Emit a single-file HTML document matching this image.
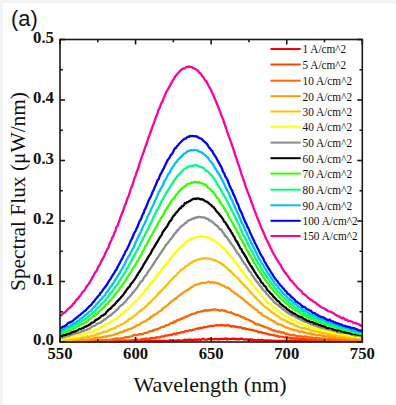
<!DOCTYPE html>
<html><head><meta charset="utf-8"><style>
html,body{margin:0;padding:0;background:#fff;}
body{width:396px;height:405px;overflow:hidden;position:relative;}
svg{position:absolute;left:0;top:0;}
</style></head><body>
<svg width="396" height="405" viewBox="0 0 396 405">
<rect x="0" y="0" width="396" height="405" fill="#ffffff"/>
<rect x="0" y="0" width="396" height="3" fill="#f3f3f3"/>
<rect x="0" y="0" width="3" height="405" fill="#f3f3f3"/>
<text x="11.0" y="25.6" font-family="Liberation Sans, sans-serif" font-size="21.8" fill="#111">(a)</text>
<g><polyline points="60.00,341.00 61.01,341.00 62.02,341.00 63.02,341.00 64.03,341.00 65.04,341.00 66.05,341.00 67.05,341.00 68.06,341.00 69.07,340.99 70.08,341.00 71.08,341.00 72.09,341.00 73.10,341.00 74.11,341.00 75.11,341.00 76.12,341.00 77.13,341.00 78.14,341.00 79.15,341.00 80.15,341.00 81.16,341.00 82.17,341.00 83.18,341.00 84.18,341.00 85.19,341.00 86.20,341.00 87.21,341.00 88.21,341.00 89.22,341.00 90.23,341.00 91.24,341.00 92.25,341.00 93.25,341.00 94.26,341.00 95.27,341.00 96.28,341.00 97.28,341.00 98.29,341.00 99.30,341.00 100.31,341.00 101.31,341.00 102.32,341.00 103.33,341.00 104.34,341.00 105.34,341.00 106.35,341.00 107.36,341.00 108.37,341.00 109.38,341.00 110.38,341.00 111.39,341.00 112.40,341.00 113.41,341.00 114.41,341.00 115.42,341.00 116.43,341.00 117.44,341.00 118.44,341.00 119.45,341.00 120.46,341.00 121.47,341.00 122.48,341.00 123.48,341.00 124.49,341.00 125.50,341.00 126.51,341.00 127.51,341.00 128.52,341.00 129.53,341.00 130.54,341.00 131.54,341.00 132.55,341.00 133.56,341.00 134.57,341.00 135.57,341.00 136.58,341.00 137.59,341.00 138.60,341.00 139.61,341.00 140.61,341.00 141.62,341.00 142.63,341.00 143.64,341.00 144.64,341.00 145.65,341.00 146.66,341.00 147.67,341.00 148.67,341.00 149.68,341.00 150.69,341.00 151.70,341.00 152.71,341.00 153.71,341.00 154.72,341.00 155.73,341.00 156.74,341.00 157.74,340.91 158.75,341.00 159.76,341.00 160.77,341.00 161.77,341.00 162.78,341.00 163.79,340.85 164.80,341.00 165.81,340.99 166.81,341.00 167.82,340.80 168.83,340.86 169.84,340.12 170.84,340.40 171.85,340.36 172.86,341.00 173.87,340.84 174.87,340.88 175.88,340.49 176.89,341.00 177.90,340.22 178.90,340.20 179.91,340.88 180.92,340.73 181.93,340.64 182.94,340.33 183.94,340.11 184.95,339.63 185.96,340.27 186.97,339.93 187.97,340.07 188.98,339.53 189.99,339.79 191.00,339.56 192.00,340.25 193.01,339.93 194.02,340.07 195.03,339.32 196.03,339.53 197.04,339.78 198.05,339.78 199.06,339.45 200.07,339.76 201.07,339.79 202.08,339.32 203.09,338.68 204.10,339.46 205.10,339.52 206.11,339.66 207.12,339.68 208.13,339.08 209.13,338.95 210.14,339.17 211.15,339.05 212.16,339.08 213.17,339.05 214.17,339.53 215.18,339.19 216.19,339.00 217.20,339.25 218.20,339.15 219.21,339.24 220.22,339.08 221.23,338.72 222.23,339.09 223.24,339.01 224.25,338.72 225.26,338.77 226.26,338.46 227.27,339.62 228.28,338.73 229.29,339.15 230.30,338.98 231.30,338.78 232.31,338.73 233.32,338.77 234.33,339.06 235.33,338.64 236.34,339.24 237.35,339.23 238.36,338.98 239.36,339.42 240.37,338.64 241.38,339.02 242.39,338.71 243.40,339.41 244.40,339.56 245.41,339.44 246.42,339.31 247.43,339.76 248.43,339.51 249.44,339.68 250.45,339.23 251.46,339.97 252.46,339.50 253.47,340.06 254.48,340.20 255.49,340.17 256.50,340.37 257.50,340.01 258.51,339.79 259.52,340.10 260.53,340.01 261.53,339.75 262.54,340.21 263.55,340.28 264.56,340.47 265.56,340.92 266.57,340.25 267.58,341.00 268.59,340.37 269.59,340.61 270.60,340.31 271.61,340.71 272.62,340.98 273.63,340.66 274.63,340.97 275.64,340.89 276.65,340.86 277.66,340.95 278.66,341.00 279.67,341.00 280.68,341.00 281.69,341.00 282.69,341.00 283.70,341.00 284.71,340.78 285.72,340.76 286.73,341.00 287.73,341.00 288.74,341.00 289.75,341.00 290.76,341.00 291.76,341.00 292.77,341.00 293.78,341.00 294.79,341.00 295.79,341.00 296.80,341.00 297.81,341.00 298.82,341.00 299.82,341.00 300.83,341.00 301.84,341.00 302.85,341.00 303.86,340.97 304.86,341.00 305.87,341.00 306.88,341.00 307.89,341.00 308.89,340.86 309.90,341.00 310.91,341.00 311.92,341.00 312.92,341.00 313.93,340.92 314.94,341.00 315.95,341.00 316.95,341.00 317.96,341.00 318.97,341.00 319.98,341.00 320.99,341.00 321.99,341.00 323.00,341.00 324.01,341.00 325.02,341.00 326.02,341.00 327.03,341.00 328.04,341.00 329.05,341.00 330.05,341.00 331.06,341.00 332.07,341.00 333.08,341.00 334.09,341.00 335.09,341.00 336.10,341.00 337.11,341.00 338.12,341.00 339.12,341.00 340.13,341.00 341.14,341.00 342.15,341.00 343.15,341.00 344.16,341.00 345.17,341.00 346.18,341.00 347.19,341.00 348.19,341.00 349.20,341.00 350.21,341.00 351.22,341.00 352.22,341.00 353.23,341.00 354.24,341.00 355.25,341.00 356.25,341.00 357.26,341.00 358.27,341.00 359.28,341.00 360.28,341.00 361.29,341.00 362.30,341.00" fill="none" stroke="#ff0000" stroke-width="2.3" stroke-linejoin="round"/>
<polyline points="60.00,341.00 61.01,341.00 62.02,341.00 63.02,341.00 64.03,341.00 65.04,341.00 66.05,341.00 67.05,341.00 68.06,341.00 69.07,341.00 70.08,341.00 71.08,341.00 72.09,341.00 73.10,341.00 74.11,341.00 75.11,341.00 76.12,341.00 77.13,341.00 78.14,341.00 79.15,341.00 80.15,341.00 81.16,341.00 82.17,341.00 83.18,341.00 84.18,341.00 85.19,341.00 86.20,341.00 87.21,341.00 88.21,340.96 89.22,341.00 90.23,341.00 91.24,341.00 92.25,341.00 93.25,341.00 94.26,341.00 95.27,341.00 96.28,341.00 97.28,341.00 98.29,341.00 99.30,341.00 100.31,341.00 101.31,341.00 102.32,341.00 103.33,341.00 104.34,341.00 105.34,341.00 106.35,341.00 107.36,341.00 108.37,341.00 109.38,341.00 110.38,341.00 111.39,341.00 112.40,341.00 113.41,340.61 114.41,341.00 115.42,341.00 116.43,340.98 117.44,341.00 118.44,341.00 119.45,341.00 120.46,340.67 121.47,341.00 122.48,340.95 123.48,341.00 124.49,341.00 125.50,340.29 126.51,340.90 127.51,340.85 128.52,340.94 129.53,340.33 130.54,340.38 131.54,340.73 132.55,340.09 133.56,340.14 134.57,339.91 135.57,340.25 136.58,339.45 137.59,339.76 138.60,339.83 139.61,339.86 140.61,339.68 141.62,339.24 142.63,339.48 143.64,338.97 144.64,339.01 145.65,338.67 146.66,338.71 147.67,338.85 148.67,339.29 149.68,338.49 150.69,338.21 151.70,338.27 152.71,338.01 153.71,338.18 154.72,338.00 155.73,338.02 156.74,337.17 157.74,337.37 158.75,337.41 159.76,337.49 160.77,336.96 161.77,336.30 162.78,336.42 163.79,336.59 164.80,335.75 165.81,335.56 166.81,335.49 167.82,335.35 168.83,335.03 169.84,335.01 170.84,334.72 171.85,334.98 172.86,334.06 173.87,334.22 174.87,333.45 175.88,334.45 176.89,333.38 177.90,333.06 178.90,333.22 179.91,332.73 180.92,332.40 181.93,332.20 182.94,332.29 183.94,331.92 184.95,331.31 185.96,330.98 186.97,331.08 187.97,330.84 188.98,330.54 189.99,330.04 191.00,330.42 192.00,330.25 193.01,329.57 194.02,329.69 195.03,329.29 196.03,328.85 197.04,328.50 198.05,328.74 199.06,327.94 200.07,328.50 201.07,327.59 202.08,328.02 203.09,327.73 204.10,326.95 205.10,327.09 206.11,327.03 207.12,326.75 208.13,326.32 209.13,326.32 210.14,326.18 211.15,325.72 212.16,326.14 213.17,325.96 214.17,325.88 215.18,325.28 216.19,325.26 217.20,325.11 218.20,325.46 219.21,325.47 220.22,325.14 221.23,325.51 222.23,325.14 223.24,325.19 224.25,325.65 225.26,325.50 226.26,325.57 227.27,325.07 228.28,324.89 229.29,325.80 230.30,325.86 231.30,326.67 232.31,326.04 233.32,326.25 234.33,326.72 235.33,326.31 236.34,327.19 237.35,326.96 238.36,327.04 239.36,327.65 240.37,327.22 241.38,327.37 242.39,328.32 243.40,328.55 244.40,328.17 245.41,328.60 246.42,329.19 247.43,329.16 248.43,329.35 249.44,329.61 250.45,329.57 251.46,329.96 252.46,329.80 253.47,330.17 254.48,330.64 255.49,330.78 256.50,330.96 257.50,331.41 258.51,332.25 259.52,331.87 260.53,332.36 261.53,332.14 262.54,332.85 263.55,332.97 264.56,333.27 265.56,333.09 266.57,333.78 267.58,334.15 268.59,334.20 269.59,334.64 270.60,334.68 271.61,334.94 272.62,335.06 273.63,334.76 274.63,335.66 275.64,335.72 276.65,335.98 277.66,335.90 278.66,336.63 279.67,336.65 280.68,336.62 281.69,336.61 282.69,336.94 283.70,337.23 284.71,337.48 285.72,337.21 286.73,337.06 287.73,337.53 288.74,337.70 289.75,337.74 290.76,338.28 291.76,338.20 292.77,338.30 293.78,338.24 294.79,338.44 295.79,338.90 296.80,338.28 297.81,338.20 298.82,338.88 299.82,338.77 300.83,338.89 301.84,338.82 302.85,339.58 303.86,338.72 304.86,339.42 305.87,338.97 306.88,339.39 307.89,339.60 308.89,339.59 309.90,339.34 310.91,339.93 311.92,339.84 312.92,339.93 313.93,340.36 314.94,339.50 315.95,339.77 316.95,340.00 317.96,339.70 318.97,340.39 319.98,340.17 320.99,339.67 321.99,339.94 323.00,340.95 324.01,341.00 325.02,340.68 326.02,340.09 327.03,340.59 328.04,340.55 329.05,340.34 330.05,340.83 331.06,340.54 332.07,340.40 333.08,340.54 334.09,340.59 335.09,340.93 336.10,340.63 337.11,340.95 338.12,340.46 339.12,340.10 340.13,341.00 341.14,341.00 342.15,341.00 343.15,340.89 344.16,340.72 345.17,340.74 346.18,341.00 347.19,341.00 348.19,340.76 349.20,341.00 350.21,340.87 351.22,341.00 352.22,341.00 353.23,341.00 354.24,341.00 355.25,341.00 356.25,341.00 357.26,341.00 358.27,341.00 359.28,341.00 360.28,341.00 361.29,341.00 362.30,341.00" fill="none" stroke="#ff4000" stroke-width="2.3" stroke-linejoin="round"/>
<polyline points="60.00,341.00 61.01,341.00 62.02,341.00 63.02,341.00 64.03,341.00 65.04,341.00 66.05,341.00 67.05,341.00 68.06,341.00 69.07,341.00 70.08,341.00 71.08,341.00 72.09,341.00 73.10,341.00 74.11,341.00 75.11,340.85 76.12,341.00 77.13,341.00 78.14,341.00 79.15,341.00 80.15,341.00 81.16,341.00 82.17,341.00 83.18,341.00 84.18,341.00 85.19,341.00 86.20,340.96 87.21,341.00 88.21,341.00 89.22,340.93 90.23,340.62 91.24,341.00 92.25,340.53 93.25,340.81 94.26,340.99 95.27,340.31 96.28,340.96 97.28,340.34 98.29,340.73 99.30,340.38 100.31,340.81 101.31,340.62 102.32,339.97 103.33,340.15 104.34,340.11 105.34,340.17 106.35,339.81 107.36,340.28 108.37,340.10 109.38,339.70 110.38,339.81 111.39,339.66 112.40,339.36 113.41,339.26 114.41,339.17 115.42,338.47 116.43,338.54 117.44,338.35 118.44,338.59 119.45,338.60 120.46,338.74 121.47,338.25 122.48,338.63 123.48,338.01 124.49,337.44 125.50,337.01 126.51,337.04 127.51,337.41 128.52,336.81 129.53,337.01 130.54,336.33 131.54,336.41 132.55,335.91 133.56,335.18 134.57,335.45 135.57,334.80 136.58,335.22 137.59,335.14 138.60,334.39 139.61,334.02 140.61,334.45 141.62,333.99 142.63,334.18 143.64,333.53 144.64,332.91 145.65,332.92 146.66,332.76 147.67,332.71 148.67,331.86 149.68,331.41 150.69,331.14 151.70,330.91 152.71,331.03 153.71,329.76 154.72,329.96 155.73,329.62 156.74,328.98 157.74,329.48 158.75,328.46 159.76,328.10 160.77,327.55 161.77,326.85 162.78,326.71 163.79,326.99 164.80,326.12 165.81,325.53 166.81,325.12 167.82,325.11 168.83,324.79 169.84,323.68 170.84,323.30 171.85,322.96 172.86,323.02 173.87,321.51 174.87,322.47 175.88,321.25 176.89,320.05 177.90,320.27 178.90,319.70 179.91,319.67 180.92,318.45 181.93,318.81 182.94,317.89 183.94,317.49 184.95,317.41 185.96,316.39 186.97,316.67 187.97,316.03 188.98,315.42 189.99,315.14 191.00,314.48 192.00,313.96 193.01,313.96 194.02,313.67 195.03,313.32 196.03,312.94 197.04,312.26 198.05,312.27 199.06,311.79 200.07,311.67 201.07,311.64 202.08,310.88 203.09,311.23 204.10,310.71 205.10,310.08 206.11,310.69 207.12,310.23 208.13,310.57 209.13,310.14 210.14,310.35 211.15,309.94 212.16,309.95 213.17,309.72 214.17,309.28 215.18,309.69 216.19,309.62 217.20,309.90 218.20,310.04 219.21,310.32 220.22,310.74 221.23,310.32 222.23,310.01 223.24,310.54 224.25,311.05 225.26,310.61 226.26,311.48 227.27,311.80 228.28,312.25 229.29,312.47 230.30,312.56 231.30,312.21 232.31,313.21 233.32,313.81 234.33,314.05 235.33,314.31 236.34,315.15 237.35,315.00 238.36,315.23 239.36,315.76 240.37,316.11 241.38,317.11 242.39,317.68 243.40,317.22 244.40,317.73 245.41,318.98 246.42,318.91 247.43,319.43 248.43,319.73 249.44,320.30 250.45,320.98 251.46,321.23 252.46,321.71 253.47,322.23 254.48,323.23 255.49,324.03 256.50,323.82 257.50,324.52 258.51,324.39 259.52,324.69 260.53,325.25 261.53,325.87 262.54,326.16 263.55,326.24 264.56,327.21 265.56,327.11 266.57,327.57 267.58,328.08 268.59,328.10 269.59,329.12 270.60,328.97 271.61,329.89 272.62,330.18 273.63,330.60 274.63,330.47 275.64,331.20 276.65,331.20 277.66,331.86 278.66,331.48 279.67,331.53 280.68,332.29 281.69,332.13 282.69,332.71 283.70,332.47 284.71,333.34 285.72,334.07 286.73,333.37 287.73,334.08 288.74,334.57 289.75,334.66 290.76,335.15 291.76,334.90 292.77,335.36 293.78,334.76 294.79,335.18 295.79,336.05 296.80,336.17 297.81,336.04 298.82,336.61 299.82,336.20 300.83,336.33 301.84,336.69 302.85,336.75 303.86,336.57 304.86,336.41 305.87,336.51 306.88,337.07 307.89,336.94 308.89,337.54 309.90,337.30 310.91,337.82 311.92,337.41 312.92,338.11 313.93,338.13 314.94,337.93 315.95,337.86 316.95,338.55 317.96,338.37 318.97,338.25 319.98,338.31 320.99,338.72 321.99,338.52 323.00,338.71 324.01,338.28 325.02,338.61 326.02,339.26 327.03,339.60 328.04,338.98 329.05,338.72 330.05,339.09 331.06,338.95 332.07,339.43 333.08,339.76 334.09,339.19 335.09,339.45 336.10,339.34 337.11,340.02 338.12,339.61 339.12,339.92 340.13,339.54 341.14,340.02 342.15,340.09 343.15,340.14 344.16,339.63 345.17,340.06 346.18,340.35 347.19,340.48 348.19,340.54 349.20,339.83 350.21,340.87 351.22,340.63 352.22,340.23 353.23,340.11 354.24,340.56 355.25,340.32 356.25,340.37 357.26,340.34 358.27,340.67 359.28,340.22 360.28,340.70 361.29,340.34 362.30,341.00" fill="none" stroke="#ff6600" stroke-width="2.3" stroke-linejoin="round"/>
<polyline points="60.00,341.00 61.01,341.00 62.02,341.00 63.02,341.00 64.03,341.00 65.04,341.00 66.05,341.00 67.05,340.61 68.06,341.00 69.07,341.00 70.08,340.89 71.08,340.62 72.09,341.00 73.10,340.60 74.11,340.08 75.11,340.36 76.12,340.56 77.13,340.65 78.14,340.23 79.15,340.78 80.15,341.00 81.16,340.35 82.17,340.39 83.18,339.43 84.18,339.82 85.19,340.06 86.20,340.00 87.21,339.39 88.21,339.68 89.22,339.48 90.23,339.21 91.24,339.02 92.25,338.89 93.25,338.74 94.26,338.24 95.27,337.97 96.28,338.82 97.28,337.38 98.29,337.96 99.30,337.45 100.31,337.87 101.31,337.36 102.32,337.21 103.33,337.04 104.34,336.61 105.34,336.47 106.35,336.75 107.36,336.25 108.37,335.76 109.38,335.54 110.38,335.60 111.39,335.33 112.40,335.03 113.41,335.05 114.41,334.82 115.42,333.67 116.43,333.97 117.44,333.52 118.44,333.46 119.45,332.52 120.46,332.05 121.47,332.30 122.48,331.73 123.48,331.75 124.49,330.62 125.50,330.49 126.51,330.64 127.51,329.60 128.52,329.46 129.53,329.02 130.54,328.60 131.54,328.47 132.55,327.97 133.56,327.15 134.57,326.88 135.57,326.66 136.58,325.25 137.59,325.41 138.60,324.99 139.61,324.49 140.61,323.52 141.62,322.87 142.63,322.52 143.64,321.74 144.64,321.86 145.65,320.90 146.66,320.31 147.67,319.53 148.67,318.73 149.68,318.84 150.69,316.60 151.70,317.12 152.71,316.06 153.71,315.21 154.72,314.49 155.73,313.95 156.74,314.16 157.74,312.87 158.75,311.55 159.76,311.30 160.77,310.57 161.77,310.18 162.78,308.32 163.79,307.74 164.80,307.37 165.81,306.34 166.81,305.52 167.82,305.02 168.83,303.95 169.84,302.98 170.84,302.08 171.85,301.05 172.86,300.61 173.87,299.95 174.87,298.88 175.88,298.40 176.89,297.79 177.90,296.28 178.90,295.96 179.91,295.04 180.92,294.12 181.93,293.90 182.94,292.64 183.94,291.98 184.95,291.44 185.96,290.61 186.97,290.29 187.97,290.07 188.98,288.86 189.99,288.45 191.00,287.33 192.00,286.95 193.01,286.66 194.02,285.97 195.03,285.10 196.03,284.71 197.04,284.52 198.05,284.11 199.06,283.97 200.07,283.59 201.07,283.08 202.08,283.03 203.09,282.68 204.10,282.92 205.10,282.93 206.11,282.81 207.12,282.35 208.13,281.76 209.13,281.79 210.14,282.48 211.15,282.71 212.16,282.09 213.17,282.32 214.17,283.04 215.18,282.51 216.19,283.02 217.20,282.95 218.20,283.55 219.21,283.73 220.22,284.27 221.23,285.07 222.23,285.29 223.24,285.89 224.25,285.93 225.26,287.01 226.26,287.72 227.27,287.63 228.28,288.10 229.29,288.63 230.30,289.39 231.30,290.85 232.31,291.30 233.32,291.96 234.33,292.53 235.33,293.92 236.34,294.03 237.35,294.71 238.36,295.87 239.36,296.33 240.37,296.81 241.38,297.97 242.39,298.48 243.40,299.31 244.40,300.32 245.41,301.15 246.42,302.21 247.43,302.55 248.43,303.89 249.44,304.78 250.45,305.18 251.46,306.43 252.46,306.89 253.47,307.51 254.48,308.60 255.49,309.38 256.50,309.91 257.50,310.73 258.51,312.19 259.52,312.87 260.53,312.80 261.53,313.81 262.54,315.27 263.55,315.75 264.56,316.02 265.56,317.00 266.57,317.22 267.58,317.98 268.59,318.49 269.59,319.60 270.60,319.66 271.61,319.84 272.62,321.25 273.63,321.17 274.63,321.81 275.64,322.44 276.65,323.17 277.66,324.00 278.66,324.39 279.67,324.37 280.68,324.76 281.69,325.13 282.69,325.64 283.70,326.07 284.71,326.88 285.72,327.51 286.73,327.46 287.73,327.74 288.74,328.22 289.75,329.05 290.76,329.08 291.76,329.69 292.77,329.52 293.78,330.18 294.79,330.21 295.79,330.35 296.80,330.68 297.81,330.58 298.82,331.59 299.82,332.16 300.83,331.46 301.84,331.56 302.85,331.79 303.86,332.36 304.86,332.50 305.87,332.84 306.88,333.47 307.89,333.45 308.89,333.33 309.90,333.84 310.91,333.28 311.92,334.50 312.92,334.34 313.93,334.05 314.94,334.74 315.95,335.06 316.95,335.29 317.96,335.26 318.97,334.74 319.98,335.22 320.99,335.34 321.99,335.79 323.00,335.52 324.01,335.89 325.02,336.34 326.02,336.33 327.03,336.26 328.04,336.10 329.05,336.60 330.05,336.56 331.06,336.22 332.07,337.19 333.08,337.45 334.09,336.89 335.09,337.17 336.10,337.44 337.11,337.45 338.12,337.74 339.12,337.59 340.13,337.95 341.14,337.71 342.15,338.41 343.15,338.40 344.16,338.22 345.17,338.49 346.18,338.24 347.19,338.55 348.19,338.80 349.20,338.66 350.21,338.97 351.22,339.37 352.22,339.33 353.23,339.31 354.24,339.30 355.25,339.21 356.25,339.04 357.26,339.22 358.27,338.93 359.28,339.16 360.28,339.67 361.29,339.19 362.30,339.40" fill="none" stroke="#ff9900" stroke-width="2.3" stroke-linejoin="round"/>
<polyline points="60.00,340.62 61.01,340.31 62.02,339.99 63.02,340.16 64.03,339.84 65.04,339.93 66.05,339.75 67.05,339.96 68.06,339.64 69.07,339.76 70.08,339.33 71.08,339.93 72.09,339.20 73.10,338.79 74.11,338.86 75.11,338.91 76.12,338.60 77.13,338.87 78.14,338.71 79.15,338.41 80.15,338.19 81.16,337.68 82.17,338.07 83.18,337.31 84.18,337.90 85.19,337.47 86.20,337.04 87.21,336.47 88.21,336.79 89.22,337.03 90.23,336.03 91.24,335.93 92.25,336.00 93.25,335.74 94.26,335.37 95.27,334.86 96.28,334.41 97.28,334.77 98.29,333.34 99.30,333.73 100.31,333.52 101.31,332.88 102.32,332.72 103.33,331.70 104.34,331.72 105.34,331.80 106.35,331.44 107.36,331.09 108.37,330.64 109.38,329.93 110.38,329.91 111.39,328.80 112.40,328.87 113.41,328.43 114.41,327.64 115.42,328.05 116.43,327.24 117.44,326.27 118.44,325.93 119.45,325.41 120.46,324.74 121.47,324.49 122.48,323.79 123.48,323.56 124.49,323.12 125.50,321.56 126.51,321.59 127.51,320.89 128.52,319.59 129.53,319.02 130.54,318.81 131.54,318.11 132.55,317.25 133.56,316.79 134.57,315.58 135.57,314.94 136.58,314.16 137.59,313.18 138.60,312.38 139.61,311.21 140.61,310.47 141.62,310.59 142.63,308.93 143.64,308.65 144.64,307.85 145.65,306.29 146.66,305.78 147.67,304.72 148.67,303.35 149.68,302.90 150.69,301.99 151.70,300.63 152.71,299.35 153.71,298.55 154.72,298.15 155.73,296.84 156.74,295.65 157.74,293.97 158.75,293.22 159.76,292.17 160.77,290.99 161.77,290.38 162.78,289.06 163.79,287.97 164.80,287.34 165.81,285.96 166.81,284.71 167.82,284.13 168.83,282.48 169.84,281.43 170.84,280.28 171.85,279.77 172.86,278.46 173.87,277.01 174.87,276.19 175.88,275.65 176.89,274.35 177.90,273.01 178.90,272.50 179.91,271.42 180.92,269.84 181.93,269.73 182.94,268.87 183.94,268.30 184.95,267.37 185.96,265.93 186.97,265.65 187.97,265.24 188.98,264.46 189.99,263.51 191.00,262.65 192.00,262.51 193.01,261.51 194.02,261.35 195.03,260.62 196.03,260.13 197.04,259.70 198.05,259.66 199.06,259.27 200.07,258.80 201.07,259.12 202.08,258.49 203.09,258.26 204.10,258.01 205.10,258.29 206.11,258.34 207.12,258.29 208.13,258.65 209.13,258.63 210.14,258.63 211.15,258.91 212.16,259.58 213.17,259.69 214.17,260.60 215.18,260.12 216.19,260.98 217.20,261.24 218.20,262.18 219.21,262.44 220.22,262.90 221.23,263.38 222.23,264.78 223.24,264.83 224.25,265.89 225.26,266.86 226.26,267.30 227.27,268.38 228.28,269.26 229.29,270.28 230.30,270.93 231.30,271.93 232.31,272.97 233.32,274.19 234.33,275.07 235.33,275.82 236.34,276.59 237.35,278.04 238.36,278.67 239.36,280.17 240.37,281.58 241.38,282.15 242.39,283.73 243.40,284.41 244.40,285.31 245.41,286.83 246.42,287.86 247.43,288.19 248.43,289.96 249.44,291.04 250.45,291.97 251.46,293.31 252.46,294.37 253.47,295.29 254.48,297.18 255.49,297.06 256.50,298.84 257.50,299.85 258.51,300.36 259.52,301.50 260.53,302.86 261.53,303.37 262.54,304.71 263.55,305.50 264.56,306.64 265.56,307.32 266.57,307.82 267.58,308.75 268.59,309.53 269.59,310.16 270.60,311.24 271.61,312.20 272.62,312.84 273.63,313.00 274.63,314.21 275.64,314.82 276.65,315.63 277.66,316.19 278.66,316.78 279.67,317.54 280.68,318.20 281.69,318.98 282.69,319.58 283.70,319.76 284.71,320.20 285.72,320.68 286.73,321.45 287.73,322.22 288.74,322.26 289.75,322.73 290.76,323.83 291.76,323.57 292.77,324.07 293.78,324.16 294.79,325.40 295.79,325.84 296.80,325.60 297.81,326.75 298.82,326.78 299.82,327.24 300.83,327.55 301.84,328.15 302.85,327.97 303.86,327.91 304.86,328.38 305.87,328.67 306.88,329.20 307.89,328.93 308.89,329.48 309.90,329.59 310.91,330.63 311.92,330.31 312.92,331.01 313.93,330.80 314.94,331.08 315.95,331.71 316.95,331.54 317.96,331.46 318.97,331.87 319.98,332.06 320.99,332.70 321.99,332.85 323.00,333.18 324.01,333.00 325.02,332.87 326.02,333.28 327.03,333.60 328.04,334.12 329.05,333.82 330.05,334.21 331.06,334.88 332.07,334.99 333.08,334.74 334.09,335.07 335.09,334.47 336.10,335.11 337.11,335.59 338.12,335.58 339.12,335.10 340.13,336.02 341.14,335.64 342.15,335.89 343.15,335.72 344.16,336.14 345.17,336.56 346.18,336.41 347.19,336.68 348.19,336.54 349.20,336.98 350.21,336.49 351.22,337.24 352.22,337.20 353.23,337.65 354.24,337.54 355.25,337.68 356.25,337.75 357.26,337.64 358.27,338.19 359.28,338.39 360.28,337.90 361.29,338.43 362.30,338.65" fill="none" stroke="#ffc000" stroke-width="2.3" stroke-linejoin="round"/>
<polyline points="60.00,338.70 61.01,338.68 62.02,339.57 63.02,338.74 64.03,338.24 65.04,338.06 66.05,338.31 67.05,337.51 68.06,338.04 69.07,337.69 70.08,337.39 71.08,337.24 72.09,336.79 73.10,336.52 74.11,336.62 75.11,335.96 76.12,336.36 77.13,335.97 78.14,335.14 79.15,335.38 80.15,334.82 81.16,335.00 82.17,334.67 83.18,334.33 84.18,333.95 85.19,333.79 86.20,333.36 87.21,332.84 88.21,332.34 89.22,332.32 90.23,331.80 91.24,331.35 92.25,331.57 93.25,331.33 94.26,329.97 95.27,329.64 96.28,329.60 97.28,329.07 98.29,329.01 99.30,328.68 100.31,327.69 101.31,327.75 102.32,326.53 103.33,326.49 104.34,325.67 105.34,324.63 106.35,324.09 107.36,324.17 108.37,323.18 109.38,323.22 110.38,322.47 111.39,321.55 112.40,320.60 113.41,320.53 114.41,319.51 115.42,318.95 116.43,318.65 117.44,317.58 118.44,316.35 119.45,316.07 120.46,315.11 121.47,314.21 122.48,313.87 123.48,312.45 124.49,311.52 125.50,310.62 126.51,309.82 127.51,309.46 128.52,308.57 129.53,307.69 130.54,306.77 131.54,305.76 132.55,304.23 133.56,303.08 134.57,302.69 135.57,301.20 136.58,300.76 137.59,299.40 138.60,298.50 139.61,297.58 140.61,295.94 141.62,294.78 142.63,293.77 143.64,292.63 144.64,291.57 145.65,290.11 146.66,289.03 147.67,287.54 148.67,286.73 149.68,285.05 150.69,283.69 151.70,282.20 152.71,280.97 153.71,279.94 154.72,278.90 155.73,277.94 156.74,276.08 157.74,274.34 158.75,272.95 159.76,272.91 160.77,271.05 161.77,269.62 162.78,268.51 163.79,266.84 164.80,265.58 165.81,264.46 166.81,263.03 167.82,262.23 168.83,260.79 169.84,259.52 170.84,257.75 171.85,257.30 172.86,255.68 173.87,254.21 174.87,253.31 175.88,251.93 176.89,251.27 177.90,249.87 178.90,248.69 179.91,247.28 180.92,246.76 181.93,245.60 182.94,245.12 183.94,244.23 184.95,242.95 185.96,242.46 186.97,241.46 187.97,240.97 188.98,239.88 189.99,239.19 191.00,239.59 192.00,238.26 193.01,238.22 194.02,237.78 195.03,237.59 196.03,237.02 197.04,237.30 198.05,236.97 199.06,236.82 200.07,236.39 201.07,236.15 202.08,236.20 203.09,236.37 204.10,236.77 205.10,237.28 206.11,236.84 207.12,237.19 208.13,237.44 209.13,237.49 210.14,238.41 211.15,238.89 212.16,240.06 213.17,239.76 214.17,240.57 215.18,241.45 216.19,241.83 217.20,243.02 218.20,243.67 219.21,243.76 220.22,245.02 221.23,245.89 222.23,246.91 223.24,247.94 224.25,249.11 225.26,249.55 226.26,251.36 227.27,252.24 228.28,253.68 229.29,254.90 230.30,256.74 231.30,257.80 232.31,258.00 233.32,259.28 234.33,261.14 235.33,262.31 236.34,263.41 237.35,265.21 238.36,265.70 239.36,267.88 240.37,269.11 241.38,271.07 242.39,271.11 243.40,272.89 244.40,273.76 245.41,275.88 246.42,276.81 247.43,278.21 248.43,279.49 249.44,280.23 250.45,281.47 251.46,283.02 252.46,284.83 253.47,285.70 254.48,286.81 255.49,288.28 256.50,289.49 257.50,290.71 258.51,292.31 259.52,293.12 260.53,293.85 261.53,295.76 262.54,296.54 263.55,297.39 264.56,299.12 265.56,299.78 266.57,301.27 267.58,301.94 268.59,303.16 269.59,303.96 270.60,304.77 271.61,305.61 272.62,306.48 273.63,308.01 274.63,307.64 275.64,309.03 276.65,310.08 277.66,310.72 278.66,311.20 279.67,312.33 280.68,312.88 281.69,313.59 282.69,313.97 283.70,315.02 284.71,315.30 285.72,315.96 286.73,316.71 287.73,316.88 288.74,317.82 289.75,318.74 290.76,318.84 291.76,319.42 292.77,319.98 293.78,320.39 294.79,320.23 295.79,321.34 296.80,321.72 297.81,322.38 298.82,322.34 299.82,323.17 300.83,323.80 301.84,324.32 302.85,324.18 303.86,324.49 304.86,325.56 305.87,325.65 306.88,325.59 307.89,325.81 308.89,326.85 309.90,326.89 310.91,326.83 311.92,327.55 312.92,327.82 313.93,328.14 314.94,328.66 315.95,328.53 316.95,328.73 317.96,329.51 318.97,329.32 319.98,329.28 320.99,329.80 321.99,329.82 323.00,330.52 324.01,330.18 325.02,331.07 326.02,330.49 327.03,331.42 328.04,331.72 329.05,331.99 330.05,332.06 331.06,332.30 332.07,332.57 333.08,332.66 334.09,332.56 335.09,332.70 336.10,333.26 337.11,332.98 338.12,333.84 339.12,334.04 340.13,334.25 341.14,333.91 342.15,334.74 343.15,334.86 344.16,334.23 345.17,334.27 346.18,334.54 347.19,335.57 348.19,335.27 349.20,335.19 350.21,335.57 351.22,336.24 352.22,336.00 353.23,336.56 354.24,336.57 355.25,335.69 356.25,336.28 357.26,337.07 358.27,337.22 359.28,336.76 360.28,337.22 361.29,336.99 362.30,337.49" fill="none" stroke="#ffff00" stroke-width="2.3" stroke-linejoin="round"/>
<polyline points="60.00,337.59 61.01,337.26 62.02,337.45 63.02,337.51 64.03,337.08 65.04,336.70 66.05,336.32 67.05,336.04 68.06,335.80 69.07,335.37 70.08,335.53 71.08,334.57 72.09,334.11 73.10,334.32 74.11,334.07 75.11,333.44 76.12,333.31 77.13,333.12 78.14,332.89 79.15,332.72 80.15,332.49 81.16,331.57 82.17,331.03 83.18,331.32 84.18,330.62 85.19,330.12 86.20,329.89 87.21,329.55 88.21,328.99 89.22,329.01 90.23,327.95 91.24,327.53 92.25,326.30 93.25,326.14 94.26,326.00 95.27,325.36 96.28,324.28 97.28,323.74 98.29,323.58 99.30,323.07 100.31,322.85 101.31,321.88 102.32,321.18 103.33,320.68 104.34,319.25 105.34,319.64 106.35,318.40 107.36,317.50 108.37,316.74 109.38,315.59 110.38,315.74 111.39,314.73 112.40,313.65 113.41,312.80 114.41,312.09 115.42,311.32 116.43,309.86 117.44,309.58 118.44,308.50 119.45,306.93 120.46,305.86 121.47,305.12 122.48,304.62 123.48,303.58 124.49,302.53 125.50,301.52 126.51,300.20 127.51,298.56 128.52,297.74 129.53,296.87 130.54,295.69 131.54,294.61 132.55,292.66 133.56,292.40 134.57,290.44 135.57,289.68 136.58,288.27 137.59,287.08 138.60,285.00 139.61,283.97 140.61,281.74 141.62,281.50 142.63,280.12 143.64,278.20 144.64,276.78 145.65,275.59 146.66,274.66 147.67,272.15 148.67,270.94 149.68,269.50 150.69,268.31 151.70,266.44 152.71,265.30 153.71,263.60 154.72,262.16 155.73,260.21 156.74,259.21 157.74,257.66 158.75,255.71 159.76,254.46 160.77,253.03 161.77,251.61 162.78,249.76 163.79,248.76 164.80,246.96 165.81,245.04 166.81,244.10 167.82,243.04 168.83,241.77 169.84,239.98 170.84,239.04 171.85,237.83 172.86,236.27 173.87,235.10 174.87,233.26 175.88,232.76 176.89,230.67 177.90,230.24 178.90,228.87 179.91,227.64 180.92,226.76 181.93,225.63 182.94,225.22 183.94,224.72 184.95,223.26 185.96,222.92 186.97,221.85 187.97,220.70 188.98,220.42 189.99,219.96 191.00,219.60 192.00,218.88 193.01,218.43 194.02,218.51 195.03,217.65 196.03,217.83 197.04,217.26 198.05,217.35 199.06,216.87 200.07,216.91 201.07,217.24 202.08,217.40 203.09,217.43 204.10,217.39 205.10,217.79 206.11,218.44 207.12,218.82 208.13,218.92 209.13,220.43 210.14,220.37 211.15,221.47 212.16,221.49 213.17,222.81 214.17,223.51 215.18,224.67 216.19,225.25 217.20,225.98 218.20,226.72 219.21,228.66 220.22,229.51 221.23,229.33 222.23,231.40 223.24,232.90 224.25,233.99 225.26,236.24 226.26,236.25 227.27,238.04 228.28,239.89 229.29,240.50 230.30,242.46 231.30,244.02 232.31,245.01 233.32,246.52 234.33,248.28 235.33,249.66 236.34,251.57 237.35,253.12 238.36,253.94 239.36,255.36 240.37,257.16 241.38,258.73 242.39,260.50 243.40,261.96 244.40,263.74 245.41,264.46 246.42,266.69 247.43,267.91 248.43,269.54 249.44,271.46 250.45,271.93 251.46,274.10 252.46,275.68 253.47,276.85 254.48,278.58 255.49,279.70 256.50,281.39 257.50,282.29 258.51,283.79 259.52,285.54 260.53,286.12 261.53,287.65 262.54,289.30 263.55,290.09 264.56,291.28 265.56,292.04 266.57,294.02 267.58,294.64 268.59,296.04 269.59,296.91 270.60,298.24 271.61,299.22 272.62,300.07 273.63,301.57 274.63,302.82 275.64,303.12 276.65,304.17 277.66,304.91 278.66,305.61 279.67,306.72 280.68,307.12 281.69,308.30 282.69,309.04 283.70,309.58 284.71,310.39 285.72,311.32 286.73,311.95 287.73,312.90 288.74,313.52 289.75,313.95 290.76,314.36 291.76,315.34 292.77,315.55 293.78,315.79 294.79,316.29 295.79,317.47 296.80,317.69 297.81,318.34 298.82,318.78 299.82,319.25 300.83,319.82 301.84,320.19 302.85,320.83 303.86,321.40 304.86,321.67 305.87,322.02 306.88,322.20 307.89,322.85 308.89,323.13 309.90,323.30 310.91,324.38 311.92,324.53 312.92,324.64 313.93,325.14 314.94,325.79 315.95,325.51 316.95,326.15 317.96,326.75 318.97,326.18 319.98,327.45 320.99,327.36 321.99,327.85 323.00,327.90 324.01,328.04 325.02,328.74 326.02,328.79 327.03,329.06 328.04,329.59 329.05,329.19 330.05,329.74 331.06,330.13 332.07,330.49 333.08,330.63 334.09,330.72 335.09,331.14 336.10,330.85 337.11,332.23 338.12,332.33 339.12,331.97 340.13,332.67 341.14,332.34 342.15,332.73 343.15,332.56 344.16,332.82 345.17,332.75 346.18,333.06 347.19,333.15 348.19,333.57 349.20,333.59 350.21,333.95 351.22,334.46 352.22,334.84 353.23,335.01 354.24,334.67 355.25,335.71 356.25,335.10 357.26,335.55 358.27,335.26 359.28,335.59 360.28,336.03 361.29,335.96 362.30,336.81" fill="none" stroke="#8c8c8c" stroke-width="2.3" stroke-linejoin="round"/>
<polyline points="60.00,336.01 61.01,335.70 62.02,336.14 63.02,335.06 64.03,335.09 65.04,334.72 66.05,334.91 67.05,333.99 68.06,333.69 69.07,333.55 70.08,333.51 71.08,332.64 72.09,332.15 73.10,332.04 74.11,331.49 75.11,331.58 76.12,330.96 77.13,330.48 78.14,330.13 79.15,328.89 80.15,329.17 81.16,329.01 82.17,328.12 83.18,328.21 84.18,327.27 85.19,326.64 86.20,326.49 87.21,325.90 88.21,325.53 89.22,324.63 90.23,324.29 91.24,322.96 92.25,322.67 93.25,322.30 94.26,322.01 95.27,320.29 96.28,319.83 97.28,319.38 98.29,318.74 99.30,318.01 100.31,317.45 101.31,315.96 102.32,315.67 103.33,315.36 104.34,314.29 105.34,314.02 106.35,312.16 107.36,311.24 108.37,310.02 109.38,308.99 110.38,308.90 111.39,307.55 112.40,306.39 113.41,305.43 114.41,304.78 115.42,303.32 116.43,302.33 117.44,300.95 118.44,300.24 119.45,299.15 120.46,298.06 121.47,296.82 122.48,295.71 123.48,294.34 124.49,292.81 125.50,291.54 126.51,289.96 127.51,288.69 128.52,287.47 129.53,286.63 130.54,284.71 131.54,283.10 132.55,282.40 133.56,280.88 134.57,279.34 135.57,277.86 136.58,276.11 137.59,274.76 138.60,272.79 139.61,271.69 140.61,269.77 141.62,268.26 142.63,266.78 143.64,264.52 144.64,263.17 145.65,261.35 146.66,259.93 147.67,257.93 148.67,256.25 149.68,254.78 150.69,253.56 151.70,251.05 152.71,249.37 153.71,247.81 154.72,246.07 155.73,244.38 156.74,242.64 157.74,241.30 158.75,239.30 159.76,237.50 160.77,236.09 161.77,234.53 162.78,232.01 163.79,230.75 164.80,229.41 165.81,227.86 166.81,226.93 167.82,225.01 168.83,223.13 169.84,221.16 170.84,220.71 171.85,218.86 172.86,216.67 173.87,215.69 174.87,214.44 175.88,212.92 176.89,212.08 177.90,210.91 178.90,209.49 179.91,208.35 180.92,207.89 181.93,206.11 182.94,206.16 183.94,204.96 184.95,202.99 185.96,203.30 186.97,202.24 187.97,202.10 188.98,201.30 189.99,200.90 191.00,200.35 192.00,199.64 193.01,198.98 194.02,198.99 195.03,198.59 196.03,199.09 197.04,198.43 198.05,198.72 199.06,198.56 200.07,199.25 201.07,199.41 202.08,199.21 203.09,199.79 204.10,200.36 205.10,201.08 206.11,201.46 207.12,201.90 208.13,202.50 209.13,203.63 210.14,204.37 211.15,205.00 212.16,206.38 213.17,206.74 214.17,208.06 215.18,209.19 216.19,211.02 217.20,211.96 218.20,213.03 219.21,214.18 220.22,215.66 221.23,216.59 222.23,218.08 223.24,219.65 224.25,221.66 225.26,222.14 226.26,224.20 227.27,225.52 228.28,227.50 229.29,228.93 230.30,230.37 231.30,232.18 232.31,233.65 233.32,235.70 234.33,236.76 235.33,239.67 236.34,241.00 237.35,242.28 238.36,244.40 239.36,246.21 240.37,248.37 241.38,249.22 242.39,251.90 243.40,252.91 244.40,254.74 245.41,256.26 246.42,257.80 247.43,260.16 248.43,261.89 249.44,263.41 250.45,265.50 251.46,266.37 252.46,268.36 253.47,269.80 254.48,271.77 255.49,272.99 256.50,274.72 257.50,276.07 258.51,277.87 259.52,278.70 260.53,280.64 261.53,282.64 262.54,283.06 263.55,284.71 264.56,286.22 265.56,286.50 266.57,288.56 267.58,290.20 268.59,291.21 269.59,292.10 270.60,293.46 271.61,294.16 272.62,295.33 273.63,296.98 274.63,297.79 275.64,298.64 276.65,299.97 277.66,300.96 278.66,301.52 279.67,302.58 280.68,304.04 281.69,304.67 282.69,305.49 283.70,306.23 284.71,307.23 285.72,307.40 286.73,308.86 287.73,309.65 288.74,309.98 289.75,311.43 290.76,311.75 291.76,311.92 292.77,313.16 293.78,313.64 294.79,313.67 295.79,314.46 296.80,315.16 297.81,315.67 298.82,316.50 299.82,316.74 300.83,317.42 301.84,317.11 302.85,318.20 303.86,318.94 304.86,319.33 305.87,319.76 306.88,320.64 307.89,320.91 308.89,320.62 309.90,321.93 310.91,322.08 311.92,322.00 312.92,322.24 313.93,323.39 314.94,323.01 315.95,323.93 316.95,323.67 317.96,324.37 318.97,324.95 319.98,324.98 320.99,325.37 321.99,326.09 323.00,325.53 324.01,326.60 325.02,326.45 326.02,327.25 327.03,327.95 328.04,328.03 329.05,328.01 330.05,328.05 331.06,328.01 332.07,328.79 333.08,329.17 334.09,329.72 335.09,329.62 336.10,329.78 337.11,330.79 338.12,329.98 339.12,330.27 340.13,330.17 341.14,331.37 342.15,331.32 343.15,331.56 344.16,332.20 345.17,332.28 346.18,332.54 347.19,332.30 348.19,332.54 349.20,332.48 350.21,333.22 351.22,333.73 352.22,333.37 353.23,333.59 354.24,333.70 355.25,333.72 356.25,334.46 357.26,334.23 358.27,334.96 359.28,334.79 360.28,334.81 361.29,335.23 362.30,335.30" fill="none" stroke="#000000" stroke-width="2.3" stroke-linejoin="round"/>
<polyline points="60.00,334.23 61.01,333.69 62.02,333.11 63.02,333.18 64.03,332.73 65.04,331.37 66.05,331.66 67.05,331.60 68.06,331.27 69.07,330.13 70.08,330.98 71.08,329.81 72.09,329.08 73.10,328.98 74.11,328.19 75.11,328.18 76.12,327.37 77.13,326.84 78.14,326.33 79.15,325.75 80.15,325.23 81.16,324.33 82.17,324.17 83.18,323.66 84.18,322.96 85.19,322.33 86.20,322.05 87.21,321.50 88.21,320.65 89.22,319.46 90.23,319.03 91.24,318.21 92.25,316.47 93.25,316.22 94.26,315.83 95.27,315.15 96.28,313.71 97.28,313.51 98.29,312.03 99.30,311.34 100.31,310.19 101.31,309.89 102.32,308.44 103.33,308.29 104.34,306.80 105.34,305.40 106.35,304.47 107.36,304.18 108.37,302.33 109.38,301.29 110.38,300.31 111.39,299.35 112.40,298.04 113.41,296.92 114.41,295.24 115.42,294.13 116.43,292.67 117.44,291.49 118.44,290.76 119.45,288.98 120.46,287.00 121.47,286.59 122.48,284.75 123.48,283.62 124.49,282.19 125.50,280.36 126.51,278.63 127.51,277.14 128.52,275.67 129.53,273.94 130.54,273.12 131.54,270.75 132.55,269.23 133.56,267.74 134.57,266.00 135.57,264.55 136.58,262.21 137.59,261.05 138.60,259.51 139.61,257.29 140.61,255.67 141.62,253.71 142.63,251.42 143.64,250.09 144.64,248.17 145.65,245.68 146.66,244.93 147.67,242.54 148.67,240.43 149.68,238.45 150.69,236.36 151.70,235.37 152.71,233.12 153.71,231.46 154.72,229.71 155.73,227.94 156.74,226.32 157.74,223.94 158.75,221.99 159.76,220.74 160.77,218.39 161.77,217.02 162.78,215.41 163.79,214.17 164.80,211.34 165.81,209.78 166.81,208.45 167.82,206.86 168.83,205.56 169.84,203.46 170.84,202.13 171.85,200.48 172.86,199.16 173.87,198.27 174.87,196.98 175.88,195.09 176.89,194.50 177.90,192.72 178.90,191.39 179.91,190.98 180.92,189.37 181.93,188.60 182.94,187.55 183.94,187.07 184.95,186.11 185.96,185.27 186.97,184.20 187.97,183.95 188.98,183.52 189.99,183.63 191.00,182.76 192.00,182.77 193.01,182.35 194.02,182.10 195.03,181.80 196.03,181.90 197.04,182.08 198.05,182.29 199.06,182.06 200.07,183.02 201.07,183.08 202.08,183.09 203.09,184.06 204.10,184.30 205.10,184.91 206.11,185.27 207.12,186.29 208.13,187.97 209.13,188.36 210.14,189.22 211.15,190.07 212.16,191.28 213.17,191.96 214.17,193.39 215.18,195.33 216.19,196.46 217.20,198.25 218.20,198.49 219.21,200.50 220.22,202.00 221.23,203.97 222.23,205.19 223.24,206.54 224.25,208.44 225.26,210.12 226.26,211.90 227.27,212.85 228.28,215.39 229.29,217.45 230.30,218.98 231.30,220.76 232.31,222.53 233.32,224.44 234.33,226.58 235.33,228.19 236.34,229.90 237.35,232.35 238.36,233.21 239.36,235.20 240.37,238.18 241.38,239.64 242.39,241.11 243.40,242.90 244.40,244.65 245.41,247.63 246.42,249.27 247.43,250.93 248.43,252.44 249.44,254.76 250.45,256.09 251.46,257.87 252.46,259.55 253.47,261.90 254.48,263.16 255.49,264.90 256.50,266.72 257.50,267.84 258.51,269.95 259.52,271.01 260.53,273.20 261.53,274.04 262.54,275.57 263.55,277.81 264.56,278.91 265.56,280.35 266.57,282.14 267.58,282.97 268.59,284.37 269.59,286.13 270.60,287.12 271.61,288.13 272.62,289.68 273.63,291.04 274.63,291.49 275.64,293.43 276.65,294.14 277.66,294.98 278.66,296.14 279.67,297.97 280.68,298.51 281.69,299.43 282.69,300.41 283.70,301.07 284.71,302.00 285.72,303.00 286.73,303.82 287.73,304.42 288.74,305.16 289.75,306.91 290.76,306.42 291.76,308.01 292.77,308.32 293.78,309.77 294.79,310.12 295.79,311.01 296.80,310.94 297.81,311.64 298.82,312.53 299.82,313.18 300.83,313.60 301.84,314.58 302.85,315.03 303.86,315.62 304.86,315.67 305.87,316.43 306.88,317.33 307.89,317.32 308.89,317.75 309.90,317.95 310.91,319.01 311.92,319.16 312.92,319.09 313.93,320.26 314.94,320.69 315.95,320.83 316.95,321.54 317.96,321.78 318.97,322.33 319.98,322.79 320.99,322.65 321.99,323.40 323.00,323.96 324.01,324.09 325.02,324.39 326.02,324.59 327.03,324.73 328.04,324.81 329.05,326.05 330.05,326.07 331.06,326.86 332.07,326.54 333.08,326.76 334.09,327.42 335.09,327.79 336.10,328.10 337.11,328.54 338.12,328.17 339.12,328.06 340.13,329.27 341.14,328.69 342.15,329.49 343.15,330.14 344.16,329.80 345.17,329.99 346.18,330.36 347.19,330.80 348.19,330.46 349.20,331.30 350.21,331.25 351.22,331.48 352.22,332.18 353.23,332.70 354.24,332.89 355.25,332.70 356.25,332.68 357.26,333.55 358.27,333.44 359.28,332.95 360.28,334.18 361.29,333.69 362.30,333.92" fill="none" stroke="#33ff00" stroke-width="2.3" stroke-linejoin="round"/>
<polyline points="60.00,332.00 61.01,332.32 62.02,331.38 63.02,331.52 64.03,330.27 65.04,330.53 66.05,329.71 67.05,329.63 68.06,328.88 69.07,328.92 70.08,327.87 71.08,327.28 72.09,326.95 73.10,325.92 74.11,325.76 75.11,325.07 76.12,324.58 77.13,323.57 78.14,323.74 79.15,323.00 80.15,322.34 81.16,321.43 82.17,320.86 83.18,319.99 84.18,319.45 85.19,318.97 86.20,318.09 87.21,317.17 88.21,317.22 89.22,315.28 90.23,315.06 91.24,314.15 92.25,313.10 93.25,312.37 94.26,311.83 95.27,310.52 96.28,309.08 97.28,308.21 98.29,307.15 99.30,306.69 100.31,305.54 101.31,304.09 102.32,302.86 103.33,302.20 104.34,301.37 105.34,300.51 106.35,298.29 107.36,297.98 108.37,296.14 109.38,294.74 110.38,292.72 111.39,292.35 112.40,291.11 113.41,289.56 114.41,288.16 115.42,286.48 116.43,285.24 117.44,284.22 118.44,283.14 119.45,280.87 120.46,279.62 121.47,277.40 122.48,276.65 123.48,274.55 124.49,273.19 125.50,271.55 126.51,269.06 127.51,267.80 128.52,266.16 129.53,264.09 130.54,262.77 131.54,260.82 132.55,259.06 133.56,256.38 134.57,255.01 135.57,253.02 136.58,250.94 137.59,249.41 138.60,247.45 139.61,245.94 140.61,243.29 141.62,241.36 142.63,239.56 143.64,237.03 144.64,235.94 145.65,233.21 146.66,231.72 147.67,229.60 148.67,227.26 149.68,224.72 150.69,223.46 151.70,221.35 152.71,219.37 153.71,216.32 154.72,214.76 155.73,212.77 156.74,210.24 157.74,208.82 158.75,207.58 159.76,205.12 160.77,203.40 161.77,200.48 162.78,199.67 163.79,197.27 164.80,195.70 165.81,193.88 166.81,191.97 167.82,190.30 168.83,188.79 169.84,187.32 170.84,185.54 171.85,184.11 172.86,182.57 173.87,180.79 174.87,179.48 175.88,177.94 176.89,176.87 177.90,174.97 178.90,174.63 179.91,173.62 180.92,171.94 181.93,171.51 182.94,170.34 183.94,169.24 184.95,168.81 185.96,168.20 186.97,167.16 187.97,166.82 188.98,166.62 189.99,166.43 191.00,165.85 192.00,166.01 193.01,165.60 194.02,165.59 195.03,165.15 196.03,165.07 197.04,165.67 198.05,165.83 199.06,166.34 200.07,166.82 201.07,166.98 202.08,167.21 203.09,167.85 204.10,168.50 205.10,169.54 206.11,171.15 207.12,170.90 208.13,171.76 209.13,172.93 210.14,174.05 211.15,175.16 212.16,175.91 213.17,177.95 214.17,178.92 215.18,180.58 216.19,182.10 217.20,183.88 218.20,185.53 219.21,187.40 220.22,188.54 221.23,190.55 222.23,192.59 223.24,194.25 224.25,196.22 225.26,197.22 226.26,199.70 227.27,201.52 228.28,203.90 229.29,205.83 230.30,207.18 231.30,209.60 232.31,211.50 233.32,213.05 234.33,215.03 235.33,217.55 236.34,219.69 237.35,221.86 238.36,224.11 239.36,225.48 240.37,228.58 241.38,230.31 242.39,232.96 243.40,234.82 244.40,236.36 245.41,238.38 246.42,240.45 247.43,242.68 248.43,244.80 249.44,246.73 250.45,248.64 251.46,250.12 252.46,251.92 253.47,254.13 254.48,256.31 255.49,258.28 256.50,259.71 257.50,261.67 258.51,263.93 259.52,264.66 260.53,266.80 261.53,268.57 262.54,270.38 263.55,272.00 264.56,273.02 265.56,275.15 266.57,276.34 267.58,277.66 268.59,278.73 269.59,280.54 270.60,282.13 271.61,283.62 272.62,284.54 273.63,285.79 274.63,287.51 275.64,288.42 276.65,289.86 277.66,291.50 278.66,292.45 279.67,293.00 280.68,293.88 281.69,295.18 282.69,296.49 283.70,297.66 284.71,298.24 285.72,299.26 286.73,300.80 287.73,300.99 288.74,302.30 289.75,302.72 290.76,303.59 291.76,304.34 292.77,305.02 293.78,305.90 294.79,307.20 295.79,307.92 296.80,307.98 297.81,308.85 298.82,310.16 299.82,310.95 300.83,310.68 301.84,310.88 302.85,311.93 303.86,312.85 304.86,313.27 305.87,314.77 306.88,314.78 307.89,314.68 308.89,315.26 309.90,316.71 310.91,316.17 311.92,316.86 312.92,317.21 313.93,318.04 314.94,318.43 315.95,319.22 316.95,319.22 317.96,319.47 318.97,320.47 319.98,320.48 320.99,321.16 321.99,321.07 323.00,321.48 324.01,322.92 325.02,322.41 326.02,322.60 327.03,323.47 328.04,323.72 329.05,324.05 330.05,324.71 331.06,324.73 332.07,324.54 333.08,325.21 334.09,325.21 335.09,325.70 336.10,325.95 337.11,326.60 338.12,326.70 339.12,326.62 340.13,327.09 341.14,327.74 342.15,328.35 343.15,328.71 344.16,328.63 345.17,328.84 346.18,329.83 347.19,329.46 348.19,329.68 349.20,329.96 350.21,330.49 351.22,329.84 352.22,330.55 353.23,331.50 354.24,331.54 355.25,331.30 356.25,331.63 357.26,331.99 358.27,332.27 359.28,332.55 360.28,332.85 361.29,333.25 362.30,332.96" fill="none" stroke="#00ff80" stroke-width="2.3" stroke-linejoin="round"/>
<polyline points="60.00,331.42 61.01,330.35 62.02,329.29 63.02,329.47 64.03,329.14 65.04,327.69 66.05,327.46 67.05,327.33 68.06,326.94 69.07,326.29 70.08,325.77 71.08,325.17 72.09,324.74 73.10,323.74 74.11,323.47 75.11,323.23 76.12,322.42 77.13,321.34 78.14,320.98 79.15,320.73 80.15,318.76 81.16,318.34 82.17,317.88 83.18,317.12 84.18,315.99 85.19,314.91 86.20,314.69 87.21,313.51 88.21,312.95 89.22,311.75 90.23,311.29 91.24,310.56 92.25,308.99 93.25,308.04 94.26,306.78 95.27,306.18 96.28,304.47 97.28,303.79 98.29,302.22 99.30,301.67 100.31,299.93 101.31,299.24 102.32,297.96 103.33,296.46 104.34,296.05 105.34,294.54 106.35,292.31 107.36,292.02 108.37,290.33 109.38,288.60 110.38,286.88 111.39,286.04 112.40,284.36 113.41,283.24 114.41,281.47 115.42,279.46 116.43,278.08 117.44,276.57 118.44,274.77 119.45,273.18 120.46,271.46 121.47,269.89 122.48,268.33 123.48,266.02 124.49,264.77 125.50,262.25 126.51,260.03 127.51,258.33 128.52,256.16 129.53,255.27 130.54,252.90 131.54,251.24 132.55,249.20 133.56,247.47 134.57,245.26 135.57,242.53 136.58,240.49 137.59,238.22 138.60,236.12 139.61,234.08 140.61,232.42 141.62,230.04 142.63,227.60 143.64,225.25 144.64,223.56 145.65,221.39 146.66,219.17 147.67,216.33 148.67,214.44 149.68,212.50 150.69,210.44 151.70,207.86 152.71,206.33 153.71,203.69 154.72,201.63 155.73,199.47 156.74,197.08 157.74,194.89 158.75,191.97 159.76,190.80 160.77,188.56 161.77,187.00 162.78,185.27 163.79,182.43 164.80,180.25 165.81,179.28 166.81,177.13 167.82,174.95 168.83,173.51 169.84,172.56 170.84,169.83 171.85,168.58 172.86,166.74 173.87,165.76 174.87,163.74 175.88,162.30 176.89,161.53 177.90,159.89 178.90,159.05 179.91,157.89 180.92,156.96 181.93,155.83 182.94,155.00 183.94,153.59 184.95,153.27 185.96,152.87 186.97,151.50 187.97,151.23 188.98,150.66 189.99,150.63 191.00,150.12 192.00,150.17 193.01,150.33 194.02,149.98 195.03,150.02 196.03,150.17 197.04,150.18 198.05,151.29 199.06,151.05 200.07,151.87 201.07,152.26 202.08,152.68 203.09,153.51 204.10,154.54 205.10,154.97 206.11,156.17 207.12,156.89 208.13,157.90 209.13,159.57 210.14,161.04 211.15,161.99 212.16,163.14 213.17,164.73 214.17,166.70 215.18,168.43 216.19,169.82 217.20,171.50 218.20,172.74 219.21,174.70 220.22,176.28 221.23,178.45 222.23,179.83 223.24,182.30 224.25,184.13 225.26,186.46 226.26,188.26 227.27,190.15 228.28,192.37 229.29,194.36 230.30,197.11 231.30,198.97 232.31,200.78 233.32,203.45 234.33,205.81 235.33,208.06 236.34,210.40 237.35,212.44 238.36,214.30 239.36,216.83 240.37,219.23 241.38,221.70 242.39,224.04 243.40,225.17 244.40,228.26 245.41,230.29 246.42,232.65 247.43,234.61 248.43,236.94 249.44,238.90 250.45,240.59 251.46,243.35 252.46,245.02 253.47,247.23 254.48,249.00 255.49,251.41 256.50,253.02 257.50,255.37 258.51,257.52 259.52,259.22 260.53,260.94 261.53,262.79 262.54,264.31 263.55,265.60 264.56,267.98 265.56,269.16 266.57,270.88 267.58,272.74 268.59,274.37 269.59,275.48 270.60,276.96 271.61,278.67 272.62,280.04 273.63,281.39 274.63,283.15 275.64,284.04 276.65,285.27 277.66,286.09 278.66,288.25 279.67,289.33 280.68,290.21 281.69,291.55 282.69,292.61 283.70,293.56 284.71,294.71 285.72,295.66 286.73,296.51 287.73,298.11 288.74,298.39 289.75,300.17 290.76,299.87 291.76,300.98 292.77,302.29 293.78,302.63 294.79,303.79 295.79,304.40 296.80,305.06 297.81,305.93 298.82,306.76 299.82,307.28 300.83,308.22 301.84,308.95 302.85,309.77 303.86,310.67 304.86,310.27 305.87,311.12 306.88,312.38 307.89,312.41 308.89,313.03 309.90,314.32 310.91,314.45 311.92,314.75 312.92,314.72 313.93,315.42 314.94,315.86 315.95,316.63 316.95,316.90 317.96,318.03 318.97,317.94 319.98,318.36 320.99,319.40 321.99,319.38 323.00,319.42 324.01,319.71 325.02,320.27 326.02,321.32 327.03,321.53 328.04,322.05 329.05,321.90 330.05,322.91 331.06,323.34 332.07,323.88 333.08,323.69 334.09,323.97 335.09,324.63 336.10,325.02 337.11,325.19 338.12,325.06 339.12,326.20 340.13,326.13 341.14,326.37 342.15,326.64 343.15,326.68 344.16,327.12 345.17,327.59 346.18,327.52 347.19,327.91 348.19,328.46 349.20,328.76 350.21,329.47 351.22,329.35 352.22,329.90 353.23,330.28 354.24,330.28 355.25,330.99 356.25,330.99 357.26,331.13 358.27,331.12 359.28,331.57 360.28,331.60 361.29,331.48 362.30,331.94" fill="none" stroke="#00bfff" stroke-width="2.3" stroke-linejoin="round"/>
<polyline points="60.00,328.28 61.01,327.97 62.02,327.19 63.02,326.66 64.03,326.44 65.04,325.81 66.05,325.23 67.05,324.30 68.06,323.08 69.07,322.38 70.08,322.57 71.08,321.74 72.09,321.34 73.10,320.73 74.11,319.55 75.11,318.79 76.12,318.25 77.13,317.10 78.14,316.61 79.15,315.38 80.15,315.03 81.16,313.78 82.17,313.23 83.18,312.25 84.18,311.19 85.19,310.85 86.20,309.72 87.21,308.54 88.21,307.60 89.22,306.42 90.23,305.70 91.24,304.78 92.25,303.32 93.25,302.08 94.26,301.27 95.27,299.49 96.28,298.45 97.28,297.19 98.29,295.96 99.30,295.18 100.31,292.98 101.31,292.51 102.32,290.82 103.33,289.33 104.34,288.04 105.34,286.64 106.35,285.48 107.36,283.86 108.37,282.20 109.38,280.27 110.38,279.28 111.39,277.26 112.40,275.70 113.41,274.13 114.41,272.63 115.42,270.78 116.43,269.50 117.44,267.17 118.44,265.29 119.45,263.70 120.46,261.52 121.47,259.69 122.48,258.08 123.48,255.65 124.49,254.09 125.50,251.20 126.51,250.21 127.51,248.10 128.52,245.97 129.53,243.60 130.54,241.20 131.54,239.38 132.55,237.37 133.56,234.49 134.57,232.55 135.57,230.72 136.58,228.44 137.59,226.61 138.60,223.87 139.61,221.09 140.61,219.67 141.62,217.45 142.63,214.67 143.64,213.12 144.64,209.66 145.65,208.22 146.66,205.66 147.67,203.17 148.67,200.44 149.68,198.37 150.69,196.76 151.70,194.40 152.71,191.55 153.71,189.97 154.72,187.17 155.73,185.10 156.74,182.39 157.74,180.08 158.75,179.03 159.76,176.00 160.77,173.83 161.77,172.18 162.78,170.09 163.79,168.27 164.80,166.04 165.81,163.89 166.81,161.74 167.82,159.88 168.83,158.62 169.84,157.06 170.84,154.83 171.85,154.35 172.86,152.38 173.87,150.27 174.87,148.36 175.88,147.90 176.89,146.33 177.90,145.47 178.90,144.00 179.91,142.91 180.92,142.10 181.93,140.82 182.94,140.13 183.94,139.15 184.95,138.66 185.96,138.35 186.97,137.41 187.97,136.74 188.98,136.87 189.99,135.94 191.00,136.02 192.00,136.15 193.01,136.01 194.02,136.20 195.03,136.50 196.03,136.18 197.04,136.50 198.05,137.32 199.06,137.73 200.07,138.31 201.07,138.69 202.08,139.20 203.09,140.67 204.10,141.28 205.10,142.36 206.11,143.24 207.12,144.11 208.13,146.02 209.13,147.66 210.14,148.44 211.15,150.30 212.16,150.80 213.17,153.07 214.17,154.57 215.18,156.09 216.19,157.83 217.20,159.82 218.20,161.54 219.21,163.15 220.22,165.47 221.23,166.81 222.23,169.30 223.24,172.19 224.25,173.32 225.26,176.27 226.26,177.82 227.27,179.45 228.28,182.04 229.29,184.97 230.30,187.16 231.30,189.21 232.31,191.09 233.32,194.09 234.33,195.87 235.33,198.46 236.34,200.95 237.35,203.33 238.36,205.13 239.36,208.46 240.37,210.70 241.38,212.44 242.39,214.75 243.40,217.78 244.40,219.99 245.41,222.37 246.42,224.15 247.43,226.79 248.43,228.42 249.44,230.86 250.45,233.22 251.46,235.44 252.46,237.50 253.47,239.55 254.48,241.92 255.49,243.93 256.50,245.82 257.50,248.11 258.51,249.78 259.52,252.09 260.53,254.22 261.53,255.83 262.54,257.25 263.55,259.13 264.56,261.86 265.56,263.05 266.57,265.02 267.58,266.67 268.59,268.33 269.59,269.92 270.60,271.60 271.61,273.08 272.62,274.45 273.63,276.37 274.63,277.83 275.64,279.22 276.65,280.61 277.66,281.43 278.66,283.27 279.67,284.24 280.68,285.45 281.69,286.48 282.69,287.88 283.70,288.73 284.71,290.20 285.72,291.21 286.73,292.13 287.73,293.85 288.74,294.32 289.75,294.97 290.76,296.36 291.76,297.41 292.77,297.68 293.78,299.12 294.79,299.65 295.79,301.59 296.80,301.67 297.81,302.66 298.82,303.18 299.82,303.70 300.83,304.85 301.84,305.60 302.85,307.10 303.86,306.70 304.86,307.21 305.87,308.23 306.88,309.06 307.89,309.44 308.89,309.85 309.90,310.57 310.91,310.72 311.92,312.10 312.92,312.90 313.93,312.89 314.94,313.19 315.95,314.24 316.95,314.62 317.96,315.32 318.97,316.00 319.98,316.33 320.99,317.21 321.99,316.97 323.00,317.38 324.01,317.70 325.02,318.66 326.02,319.04 327.03,319.79 328.04,320.14 329.05,319.85 330.05,319.67 331.06,321.24 332.07,321.44 333.08,321.43 334.09,322.30 335.09,322.29 336.10,322.93 337.11,323.30 338.12,323.29 339.12,324.00 340.13,324.66 341.14,324.37 342.15,324.95 343.15,325.46 344.16,325.87 345.17,325.78 346.18,326.50 347.19,326.56 348.19,326.61 349.20,327.25 350.21,327.19 351.22,328.24 352.22,327.94 353.23,328.25 354.24,328.13 355.25,328.98 356.25,328.99 357.26,329.59 358.27,330.13 359.28,330.35 360.28,330.56 361.29,330.37 362.30,331.10" fill="none" stroke="#0000ff" stroke-width="2.3" stroke-linejoin="round"/>
<polyline points="60.00,316.37 61.01,315.29 62.02,314.35 63.02,313.58 64.03,312.53 65.04,312.42 66.05,311.30 67.05,310.10 68.06,308.89 69.07,308.07 70.08,307.44 71.08,306.21 72.09,305.59 73.10,303.75 74.11,303.41 75.11,301.66 76.12,300.22 77.13,299.07 78.14,298.61 79.15,296.80 80.15,295.69 81.16,294.36 82.17,292.43 83.18,291.47 84.18,290.59 85.19,289.05 86.20,287.05 87.21,285.71 88.21,284.59 89.22,283.20 90.23,281.28 91.24,279.63 92.25,277.59 93.25,276.34 94.26,274.24 95.27,272.32 96.28,271.39 97.28,269.26 98.29,266.76 99.30,265.48 100.31,263.43 101.31,261.17 102.32,259.70 103.33,257.57 104.34,255.88 105.34,253.12 106.35,251.30 107.36,249.09 108.37,247.56 109.38,244.24 110.38,242.05 111.39,240.19 112.40,237.24 113.41,235.97 114.41,232.84 115.42,230.88 116.43,227.07 117.44,226.17 118.44,223.21 119.45,220.49 120.46,217.41 121.47,214.77 122.48,212.24 123.48,209.74 124.49,206.29 125.50,204.41 126.51,201.33 127.51,198.10 128.52,196.18 129.53,193.21 130.54,189.77 131.54,187.09 132.55,184.73 133.56,181.41 134.57,177.91 135.57,175.64 136.58,172.37 137.59,169.62 138.60,166.90 139.61,163.24 140.61,160.47 141.62,157.43 142.63,154.88 143.64,151.84 144.64,148.86 145.65,145.85 146.66,143.16 147.67,140.29 148.67,136.84 149.68,134.70 150.69,131.65 151.70,128.80 152.71,126.04 153.71,123.49 154.72,120.62 155.73,117.45 156.74,115.14 157.74,112.64 158.75,109.34 159.76,107.74 160.77,104.55 161.77,102.34 162.78,100.50 163.79,97.92 164.80,95.68 165.81,93.00 166.81,91.02 167.82,89.35 168.83,87.67 169.84,85.94 170.84,83.68 171.85,82.33 172.86,80.32 173.87,78.78 174.87,77.14 175.88,75.57 176.89,74.56 177.90,73.26 178.90,72.36 179.91,70.99 180.92,70.16 181.93,69.12 182.94,68.49 183.94,68.53 184.95,68.26 185.96,67.23 186.97,66.78 187.97,67.15 188.98,66.41 189.99,66.87 191.00,67.06 192.00,67.16 193.01,68.04 194.02,68.56 195.03,68.72 196.03,69.63 197.04,70.03 198.05,70.89 199.06,72.63 200.07,73.16 201.07,73.91 202.08,76.03 203.09,76.78 204.10,78.53 205.10,80.26 206.11,80.95 207.12,82.67 208.13,84.92 209.13,86.83 210.14,88.22 211.15,90.31 212.16,92.79 213.17,94.71 214.17,97.20 215.18,99.65 216.19,101.75 217.20,104.52 218.20,106.71 219.21,109.53 220.22,112.21 221.23,114.90 222.23,117.30 223.24,119.90 224.25,122.84 225.26,126.06 226.26,128.47 227.27,131.81 228.28,134.80 229.29,137.46 230.30,140.11 231.30,143.12 232.31,146.15 233.32,148.90 234.33,152.07 235.33,155.45 236.34,158.12 237.35,161.46 238.36,164.27 239.36,167.22 240.37,170.42 241.38,173.84 242.39,176.42 243.40,179.43 244.40,182.32 245.41,185.34 246.42,188.46 247.43,191.48 248.43,193.66 249.44,196.45 250.45,199.38 251.46,202.28 252.46,204.42 253.47,207.51 254.48,210.38 255.49,212.78 256.50,215.65 257.50,217.98 258.51,220.64 259.52,223.05 260.53,225.64 261.53,228.20 262.54,230.28 263.55,232.42 264.56,235.31 265.56,237.44 266.57,239.81 267.58,241.37 268.59,243.81 269.59,245.55 270.60,248.09 271.61,249.59 272.62,251.95 273.63,253.82 274.63,255.38 275.64,257.48 276.65,259.31 277.66,260.60 278.66,262.59 279.67,263.85 280.68,265.09 281.69,267.59 282.69,269.07 283.70,270.93 284.71,272.29 285.72,273.19 286.73,274.68 287.73,276.05 288.74,277.32 289.75,279.01 290.76,280.53 291.76,280.93 292.77,282.38 293.78,283.29 294.79,284.78 295.79,285.66 296.80,287.13 297.81,288.03 298.82,289.12 299.82,289.96 300.83,290.64 301.84,291.83 302.85,293.83 303.86,293.91 304.86,294.77 305.87,295.40 306.88,296.46 307.89,297.54 308.89,298.38 309.90,299.05 310.91,299.94 311.92,300.06 312.92,301.06 313.93,301.95 314.94,302.39 315.95,302.74 316.95,304.13 317.96,304.75 318.97,305.49 319.98,306.42 320.99,306.88 321.99,307.59 323.00,307.78 324.01,308.39 325.02,308.85 326.02,309.93 327.03,309.97 328.04,311.12 329.05,311.44 330.05,311.54 331.06,312.09 332.07,312.66 333.08,312.87 334.09,313.70 335.09,314.59 336.10,315.07 337.11,315.73 338.12,315.91 339.12,316.68 340.13,317.10 341.14,317.67 342.15,318.34 343.15,317.54 344.16,318.46 345.17,319.78 346.18,319.46 347.19,320.18 348.19,321.07 349.20,320.91 350.21,321.19 351.22,321.49 352.22,321.73 353.23,322.70 354.24,322.85 355.25,323.02 356.25,323.43 357.26,323.85 358.27,324.30 359.28,324.33 360.28,325.43 361.29,325.85 362.30,325.23" fill="none" stroke="#ff00a0" stroke-width="2.3" stroke-linejoin="round"/></g>
<rect x="60.00" y="39.50" width="302.30" height="302.50" fill="none" stroke="#1a1a1a" stroke-width="1.6"/>
<g stroke="#1a1a1a" stroke-width="1.6"><line x1="60.00" y1="342.00" x2="60.00" y2="337.00"/>
<line x1="60.00" y1="39.50" x2="60.00" y2="44.50"/>
<line x1="97.79" y1="342.00" x2="97.79" y2="339.20"/>
<line x1="97.79" y1="39.50" x2="97.79" y2="42.30"/>
<line x1="135.57" y1="342.00" x2="135.57" y2="337.00"/>
<line x1="135.57" y1="39.50" x2="135.57" y2="44.50"/>
<line x1="173.36" y1="342.00" x2="173.36" y2="339.20"/>
<line x1="173.36" y1="39.50" x2="173.36" y2="42.30"/>
<line x1="211.15" y1="342.00" x2="211.15" y2="337.00"/>
<line x1="211.15" y1="39.50" x2="211.15" y2="44.50"/>
<line x1="248.94" y1="342.00" x2="248.94" y2="339.20"/>
<line x1="248.94" y1="39.50" x2="248.94" y2="42.30"/>
<line x1="286.73" y1="342.00" x2="286.73" y2="337.00"/>
<line x1="286.73" y1="39.50" x2="286.73" y2="44.50"/>
<line x1="324.51" y1="342.00" x2="324.51" y2="339.20"/>
<line x1="324.51" y1="39.50" x2="324.51" y2="42.30"/>
<line x1="362.30" y1="342.00" x2="362.30" y2="337.00"/>
<line x1="362.30" y1="39.50" x2="362.30" y2="44.50"/>
<line x1="60.00" y1="342.00" x2="65.00" y2="342.00"/>
<line x1="362.30" y1="342.00" x2="357.30" y2="342.00"/>
<line x1="60.00" y1="311.75" x2="62.80" y2="311.75"/>
<line x1="362.30" y1="311.75" x2="359.50" y2="311.75"/>
<line x1="60.00" y1="281.50" x2="65.00" y2="281.50"/>
<line x1="362.30" y1="281.50" x2="357.30" y2="281.50"/>
<line x1="60.00" y1="251.25" x2="62.80" y2="251.25"/>
<line x1="362.30" y1="251.25" x2="359.50" y2="251.25"/>
<line x1="60.00" y1="221.00" x2="65.00" y2="221.00"/>
<line x1="362.30" y1="221.00" x2="357.30" y2="221.00"/>
<line x1="60.00" y1="190.75" x2="62.80" y2="190.75"/>
<line x1="362.30" y1="190.75" x2="359.50" y2="190.75"/>
<line x1="60.00" y1="160.50" x2="65.00" y2="160.50"/>
<line x1="362.30" y1="160.50" x2="357.30" y2="160.50"/>
<line x1="60.00" y1="130.25" x2="62.80" y2="130.25"/>
<line x1="362.30" y1="130.25" x2="359.50" y2="130.25"/>
<line x1="60.00" y1="100.00" x2="65.00" y2="100.00"/>
<line x1="362.30" y1="100.00" x2="357.30" y2="100.00"/>
<line x1="60.00" y1="69.75" x2="62.80" y2="69.75"/>
<line x1="362.30" y1="69.75" x2="359.50" y2="69.75"/>
<line x1="60.00" y1="39.50" x2="65.00" y2="39.50"/>
<line x1="362.30" y1="39.50" x2="357.30" y2="39.50"/></g>
<g font-family="Liberation Serif, serif" font-weight="bold" font-size="17" fill="#111"><text x="54.0" y="345.20" text-anchor="end" textLength="21" lengthAdjust="spacingAndGlyphs">0.0</text>
<text x="54.0" y="284.70" text-anchor="end" textLength="21" lengthAdjust="spacingAndGlyphs">0.1</text>
<text x="54.0" y="224.20" text-anchor="end" textLength="21" lengthAdjust="spacingAndGlyphs">0.2</text>
<text x="54.0" y="163.70" text-anchor="end" textLength="21" lengthAdjust="spacingAndGlyphs">0.3</text>
<text x="54.0" y="103.20" text-anchor="end" textLength="21" lengthAdjust="spacingAndGlyphs">0.4</text>
<text x="54.0" y="42.70" text-anchor="end" textLength="21" lengthAdjust="spacingAndGlyphs">0.5</text><text x="60.00" y="359.4" text-anchor="middle" textLength="25" lengthAdjust="spacingAndGlyphs">550</text>
<text x="135.57" y="359.4" text-anchor="middle" textLength="25" lengthAdjust="spacingAndGlyphs">600</text>
<text x="211.15" y="359.4" text-anchor="middle" textLength="25" lengthAdjust="spacingAndGlyphs">650</text>
<text x="286.73" y="359.4" text-anchor="middle" textLength="25" lengthAdjust="spacingAndGlyphs">700</text>
<text x="362.30" y="359.4" text-anchor="middle" textLength="25" lengthAdjust="spacingAndGlyphs">750</text></g>
<g font-family="Liberation Serif, serif" font-size="12" fill="#111"><line x1="270.5" y1="49.00" x2="300.7" y2="49.00" stroke="#ff0000" stroke-width="2"/>
<text x="302.6" y="53.30" textLength="43.5" lengthAdjust="spacingAndGlyphs">1 A/cm^2</text>
<line x1="270.5" y1="64.50" x2="300.7" y2="64.50" stroke="#ff4000" stroke-width="2"/>
<text x="302.6" y="68.80" textLength="43.5" lengthAdjust="spacingAndGlyphs">5 A/cm^2</text>
<line x1="270.5" y1="80.70" x2="300.7" y2="80.70" stroke="#ff6600" stroke-width="2"/>
<text x="302.6" y="85.00" textLength="49.5" lengthAdjust="spacingAndGlyphs">10 A/cm^2</text>
<line x1="270.5" y1="96.20" x2="300.7" y2="96.20" stroke="#ff9900" stroke-width="2"/>
<text x="302.6" y="100.50" textLength="49.5" lengthAdjust="spacingAndGlyphs">20 A/cm^2</text>
<line x1="270.5" y1="111.50" x2="300.7" y2="111.50" stroke="#ffc000" stroke-width="2"/>
<text x="302.6" y="115.80" textLength="49.5" lengthAdjust="spacingAndGlyphs">30 A/cm^2</text>
<line x1="270.5" y1="126.70" x2="300.7" y2="126.70" stroke="#ffff00" stroke-width="2"/>
<text x="302.6" y="131.00" textLength="49.5" lengthAdjust="spacingAndGlyphs">40 A/cm^2</text>
<line x1="270.5" y1="142.60" x2="300.7" y2="142.60" stroke="#8c8c8c" stroke-width="2"/>
<text x="302.6" y="146.90" textLength="49.5" lengthAdjust="spacingAndGlyphs">50 A/cm^2</text>
<line x1="270.5" y1="158.20" x2="300.7" y2="158.20" stroke="#000000" stroke-width="2"/>
<text x="302.6" y="162.50" textLength="49.5" lengthAdjust="spacingAndGlyphs">60 A/cm^2</text>
<line x1="270.5" y1="173.60" x2="300.7" y2="173.60" stroke="#33ff00" stroke-width="2"/>
<text x="302.6" y="177.90" textLength="49.5" lengthAdjust="spacingAndGlyphs">70 A/cm^2</text>
<line x1="270.5" y1="189.70" x2="300.7" y2="189.70" stroke="#00ff80" stroke-width="2"/>
<text x="302.6" y="194.00" textLength="49.5" lengthAdjust="spacingAndGlyphs">80 A/cm^2</text>
<line x1="270.5" y1="205.30" x2="300.7" y2="205.30" stroke="#00bfff" stroke-width="2"/>
<text x="302.6" y="209.60" textLength="49.5" lengthAdjust="spacingAndGlyphs">90 A/cm^2</text>
<line x1="270.5" y1="220.80" x2="300.7" y2="220.80" stroke="#0000ff" stroke-width="2"/>
<text x="302.6" y="225.10" textLength="55.0" lengthAdjust="spacingAndGlyphs">100 A/cm^2</text>
<line x1="270.5" y1="236.00" x2="300.7" y2="236.00" stroke="#ff00a0" stroke-width="2"/>
<text x="302.6" y="240.30" textLength="55.0" lengthAdjust="spacingAndGlyphs">150 A/cm^2</text></g>
<text x="133.5" y="391.5" textLength="153" lengthAdjust="spacingAndGlyphs" font-family="Liberation Serif, serif" font-size="21" fill="#111">Wavelength (nm)</text>
<text transform="translate(24.8,291) rotate(-90)" x="0" y="0" textLength="199" lengthAdjust="spacingAndGlyphs" font-family="Liberation Serif, serif" font-size="21" fill="#111">Spectral Flux (&#956;W/nm)</text>
</svg>
</body></html>
